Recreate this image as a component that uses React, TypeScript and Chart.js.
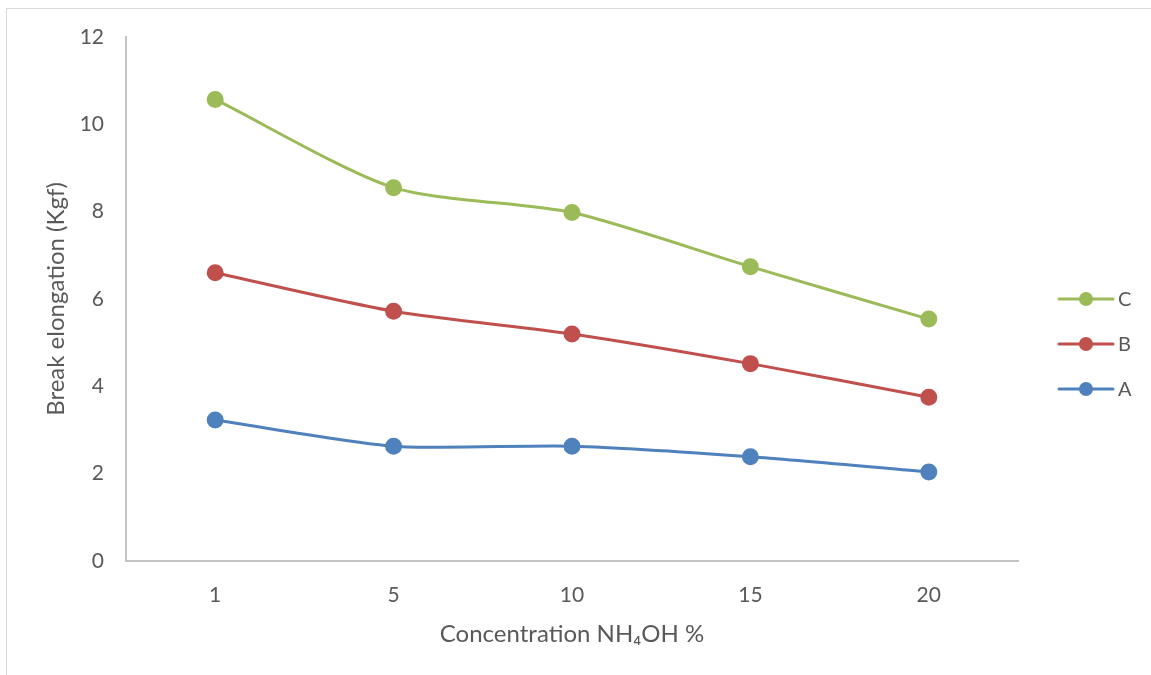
import React, { useEffect, useRef } from "react";
import { Chart, registerables } from "chart.js";

Chart.register(...registerables);

const categories = ["1", "5", "10", "15", "20"];
const seriesNames = ["A", "B", "C"];
const seriesA = [3.23, 2.63, 2.63, 2.39, 2.04];
const seriesB = [6.6, 5.72, 5.2, 4.52, 3.75];
const seriesC = [10.57, 8.55, 7.98, 6.74, 5.54];
const seriesColors = ["#4f81bd", "#c0504d", "#9bbb59"];
const yMin = 0;
const yMax = 12;
const yStep = 2;
const xTitle = "Concentration NH\u2084OH %";
const yTitle = "Break elongation (Kgf)";

const FONT = "Lato, 'DejaVu Sans', sans-serif";
const TEXT = "#595959";

const sideLegend = {
  id: "sideLegend",
  afterDraw(chart: any) {
    const ctx = chart.ctx;
    const ds = chart.data.datasets;
    const right = chart.chartArea.right;
    const startY = 290;
    const gap = 45;
    ctx.save();
    for (let i = 0; i < ds.length; i++) {
      const d = ds[ds.length - 1 - i];
      const y = startY + gap * i;
      ctx.strokeStyle = d.borderColor;
      ctx.lineWidth = 3;
      ctx.lineCap = "round";
      ctx.beginPath();
      ctx.moveTo(right + 41, y);
      ctx.lineTo(right + 95, y);
      ctx.stroke();
      ctx.fillStyle = d.backgroundColor;
      ctx.beginPath();
      ctx.arc(right + 68, y, 7, 0, Math.PI * 2);
      ctx.fill();
      ctx.fillStyle = TEXT;
      ctx.font = `20px ${FONT}`;
      ctx.textBaseline = "middle";
      ctx.textAlign = "left";
      ctx.fillText(d.label, right + 100, y + 1);
    }
    ctx.restore();
  },
};

export default function App() {
  const ref = useRef<HTMLCanvasElement>(null);

  useEffect(() => {
    if (!ref.current) return;
    const values = [seriesA, seriesB, seriesC];
    const chart = new Chart(ref.current, {
      type: "line",
      data: {
        labels: categories,
        datasets: seriesNames.map((name, i) => ({
          label: name,
          data: values[i],
          borderColor: seriesColors[i],
          backgroundColor: seriesColors[i],
          pointBackgroundColor: seriesColors[i],
          pointBorderColor: seriesColors[i],
          borderWidth: 3,
          pointRadius: 7,
          pointHoverRadius: 7,
          tension: 0.25,
          fill: false,
        })),
      },
      options: {
        animation: false,
        responsive: false,
        maintainAspectRatio: false,
        layout: { padding: { top: 28, right: 133, bottom: 0, left: 0 } },
        plugins: {
          legend: { display: false },
          tooltip: { enabled: false },
        },
        scales: {
          x: {
            type: "category",
            offset: true,
            grid: { display: false, drawTicks: false },
            border: { display: true, color: "#c4c4c4", width: 2 },
            ticks: {
              color: TEXT,
              font: { family: FONT, size: 21 },
              padding: 22,
              maxRotation: 0,
              autoSkip: false,
            },
            title: {
              display: true,
              text: xTitle,
              color: TEXT,
              font: { family: FONT, size: 24 },
              padding: { top: 0, bottom: 26 },
            },
            afterFit: (s: any) => {
              s.height = 114;
              s.paddingLeft = 0;
              s.paddingRight = 0;
            },
          },
          y: {
            min: yMin,
            max: yMax,
            grid: { display: false, drawTicks: false },
            border: { display: true, color: "#c4c4c4", width: 2 },
            ticks: {
              stepSize: yStep,
              color: TEXT,
              font: { family: FONT, size: 21 },
              padding: 22,
            },
            title: {
              display: true,
              text: yTitle,
              color: TEXT,
              font: { family: FONT, size: 24 },
              padding: { top: 35, bottom: 0 },
            },
            afterFit: (s: any) => {
              s.width = 119;
              s.paddingTop = 0;
              s.paddingBottom = 0;
            },
          },
        },
      },
      plugins: [sideLegend],
    });
    return () => chart.destroy();
  }, []);

  return (
    <div
      style={{
        position: "absolute",
        left: 6,
        top: 8,
        width: 1145,
        height: 667,
        boxSizing: "border-box",
        borderTop: "1px solid #d9d9d9",
        borderLeft: "1px solid #d9d9d9",
        overflow: "hidden",
        background: "#fff",
      }}
    >
      <canvas ref={ref} width={1144} height={666} style={{ display: "block" }} />
    </div>
  );
}
